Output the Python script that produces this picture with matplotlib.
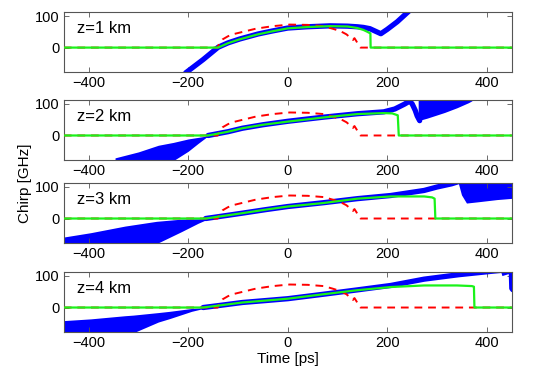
import matplotlib
matplotlib.use("Agg")
import matplotlib.pyplot as plt

plt.rcParams['font.family'] = ['Liberation Sans', 'DejaVu Sans']

# ---------------- data ----------------
panel_labels = ["z=1 km", "z=2 km", "z=3 km", "z=4 km"]
x_ticks = [-400, -200, 0, 200, 400]
y_ticks = [0, 100]

# initial chirp (red dashed), same in all panels
t_red = [-450, -141, -138, -131, -120, -111, -90, -64, -30, 4, 40, 72, 90, 106, 118, 126, 131, 134, 138, 143, 146, 450]
v_red = [0, 0, 12, 26, 36, 42, 50, 60, 68, 73, 72, 68, 60, 52, 42, 31, 24, 30, 20, 5, 0, 0]

# green curves
t_green1 = [-450, -140, -120, -97, -60, -30, 0, 38, 85, 120, 140, 152, 160, 166, 166.5, 450]
v_green1 = [0, 0, 14, 26, 42, 52, 61, 65, 68, 67, 62, 56, 50, 45, 0, 0]
t_green2 = [-450, -160, -120, -91, -50, 0, 71, 140, 193, 210, 221, 223, 450]
v_green2 = [0, 0, 12, 23, 34, 44, 57, 68, 71, 70, 64, 0, 0]
t_green3 = [-450, -165, -130, -91, -45, 0, 71, 140, 207, 274, 290, 295, 296.5, 450]
v_green3 = [0, 0, 8, 17, 28, 38, 49, 63, 70, 70, 67, 63, 0, 0]
t_green4 = [-450, -170, -130, -91, -45, 0, 71, 140, 207, 274, 340, 370, 374, 375, 450]
v_green4 = [0, 0, 8, 16, 22, 28, 42, 55, 65, 70, 70, 68, 66, 0, 0]

# blue thick curves
t_blue1 = [-205, -170, -140, -120, -97, -60, -30, 0, 38, 85, 120, 140, 152, 165, 176, 187, 200, 220, 245]
v_blue1 = [-80, -38, 1, 15, 27, 43, 53, 62, 66, 69, 68, 66, 64, 60, 52, 44, 58, 82, 118]
t_blue2 = [-160, -120, -91, -50, 0, 71, 140, 193, 215, 234, 245, 250, 256, 260, 265]
v_blue2 = [0, 12, 23, 34, 45, 58, 69, 75, 84, 99, 109, 100, 80, 62, 47]
t_blue3 = [-165, -130, -91, -45, 0, 71, 140, 207, 274, 300, 329, 345]
v_blue3 = [0, 8, 17, 28, 38, 50, 63, 73, 89, 100, 110, 118]
t_blue4 = [-170, -130, -91, -45, 0, 71, 140, 207, 274, 343, 410, 430]
v_blue4 = [0, 8, 16, 22, 28, 42, 56, 70, 90, 104, 115, 118]

# blue oscillation envelopes (bands)
t_bandL2 = [-347, -300, -260, -230, -200, -180, -164, -150]
hi_bandL2 = [-71, -52, -31, -22, -11, -6, -2, 0]
lo_bandL2 = [-80, -80, -80, -80, -50, -25, -6, -1]
t_bandR2 = [262, 280, 315, 340, 363, 370]
hi_bandR2 = [120, 120, 120, 120, 120, 120]
lo_bandR2 = [47, 55, 73, 88, 104, 110]

t_bandL3 = [-455, -396, -327, -264, -214, -180, -164, -150]
hi_bandL3 = [-60, -45, -24, -9, -2, -1, 0, 1]
lo_bandL3 = [-80, -80, -80, -80, -42, -15, -4, -1]
t_bandR3 = [343, 349, 359, 382, 420, 451]
hi_bandR3 = [120, 120, 120, 120, 120, 120]
lo_bandR3 = [110, 75, 49, 53, 60, 64]

t_bandL4 = [-455, -396, -327, -310, -260, -237, -193, -164, -150]
hi_bandL4 = [-42, -36, -26, -24, -16, -12, -3, 0, 1]
lo_bandL4 = [-80, -80, -80, -80, -46, -35, -12, -1, 0]
t_edge4 = [434, 448, 449, 450]
v_edge4 = [108, 115, 60, 58]

greens = [(t_green1, v_green1), (t_green2, v_green2), (t_green3, v_green3), (t_green4, v_green4)]
blues = [(t_blue1, v_blue1), (t_blue2, v_blue2), (t_blue3, v_blue3), (t_blue4, v_blue4)]
bands = [
    [],
    [(t_bandL2, lo_bandL2, hi_bandL2), (t_bandR2, lo_bandR2, hi_bandR2)],
    [(t_bandL3, lo_bandL3, hi_bandL3), (t_bandR3, lo_bandR3, hi_bandR3)],
    [(t_bandL4, lo_bandL4, hi_bandL4)],
]

# ---------------- figure ----------------
fig = plt.figure(figsize=(5.45, 3.74), dpi=100)
left, width = 0.117, 0.822
bottoms = [0.807, 0.572, 0.350, 0.112]
height = 0.161

blue = (0, 0, 1)
green = (0.1, 0.95, 0.1)
red = (1, 0, 0)
spine_col = '#555555'

for i in range(4):
    ax = fig.add_axes([left, bottoms[i], width, height])
    for (tb, lo, hi) in bands[i]:
        ax.fill_between(tb, lo, hi, color=blue, lw=0, zorder=1)
    tb, vb = blues[i]
    ax.plot(tb, vb, color=blue, lw=3.8, solid_capstyle='round', zorder=2)
    if i == 3:
        ax.plot(t_edge4, v_edge4, color=blue, lw=3, zorder=2)
    ax.plot(t_red, v_red, color=red, lw=1.4, dashes=(4, 3), zorder=3)
    tg, vg = greens[i]
    ax.plot(tg, vg, color=green, lw=1.6, zorder=4)

    ax.set_xlim(-450, 450)
    ax.set_ylim(-78, 113)
    ax.set_xticks(x_ticks)
    ax.set_yticks(y_ticks)
    ax.tick_params(direction='in', length=3.5, width=0.6, color=spine_col,
                   labelsize=10.5, top=True, right=True, pad=3)
    ax.set_xticklabels(["\u2212400", "\u2212200", "0", "200", "400"])
    for s in ax.spines.values():
        s.set_color(spine_col)
        s.set_linewidth(0.8)
    ax.text(0.03, 0.72, panel_labels[i], transform=ax.transAxes,
            fontsize=12, va='center', ha='left')
    if i == 3:
        ax.set_xlabel("Time [ps]", fontsize=11, labelpad=1)

fig.text(0.046, 0.51, "Chirp [GHz]", rotation=90, fontsize=11,
         va='center', ha='center')

fig.savefig("out.png", dpi=100)
